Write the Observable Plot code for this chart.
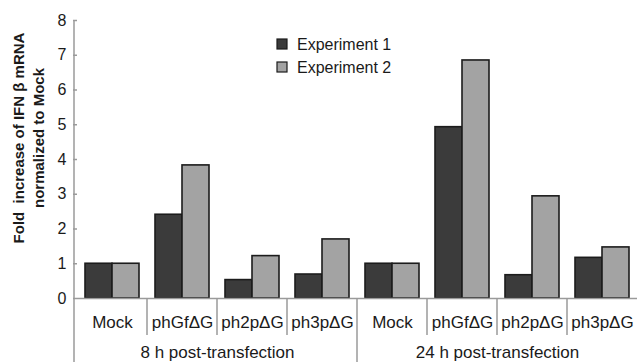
<!DOCTYPE html>
<html>
<head>
<meta charset="utf-8">
<script src="https://cdn.jsdelivr.net/npm/d3@7"></script>
<script src="https://cdn.jsdelivr.net/npm/@observablehq/plot@0.6"></script>
<style>
  html, body { margin: 0; padding: 0; background: #fff; }
  #chart { width: 640px; height: 362px; }
</style>
</head>
<body>
<div id="chart"></div>
<script>
const periods = ["8 h post-transfection", "24 h post-transfection"];
const categories = ["Mock", "phGfΔG", "ph2pΔG", "ph3pΔG"];
const series = ["Experiment 1", "Experiment 2"];
const exp1 = [1.00, 2.41, 0.53, 0.69, 1.00, 4.93, 0.67, 1.17];
const exp2 = [1.00, 3.83, 1.22, 1.70, 1.00, 6.85, 2.94, 1.47];
const yTicks = [0, 1, 2, 3, 4, 5, 6, 7, 8];
const yLabel = ["Fold  increase of IFN β mRNA", "normalized to Mock"];

const groups = [];
periods.forEach((p, pi) => categories.forEach((c, ci) => groups.push({period: p, cat: c, key: pi + "|" + c})));
const keys = groups.map(g => g.key);
const rows = [];
groups.forEach((g, i) => {
  rows.push({key: g.key, series: series[0], value: exp1[i]});
  rows.push({key: g.key, series: series[1], value: exp2[i]});
});
const periodLabels = periods.map((p, pi) => ({key: pi + "|" + categories[1], text: p}));

const colors = ["#3b3b3b", "#a3a3a3"];
const axisGray = "#9a9a9a";
const font = "'Liberation Sans', Arial, sans-serif";

const chart = Plot.plot({
  width: 640, height: 362,
  marginLeft: 74, marginRight: 0, marginTop: 20, marginBottom: 64,
  style: {fontFamily: font, fontSize: "16px", color: "#1a1a1a", background: "#fff"},
  fx: {domain: keys, padding: 0, axis: null},
  x: {domain: series, paddingInner: 0, paddingOuter: 0.27, axis: null},
  y: {domain: [0, 8], axis: null},
  color: {domain: series, range: colors},
  marks: [
    Plot.axisY({ticks: yTicks, tickSize: 4, tickPadding: 7, fontSize: 16, label: null, stroke: axisGray, strokeWidth: 1.5, fill: "#1a1a1a", tickFormat: d => String(d)}),
    Plot.barY(rows, {fx: "key", x: "series", y: "value", fill: "series", stroke: "#1c1c1c", strokeWidth: 1.6}),
    Plot.ruleY([0], {stroke: axisGray, strokeWidth: 1.5}),
    Plot.text(groups, {fx: "key", text: "cat", frameAnchor: "bottom", dy: 24, fontSize: 17, lineAnchor: "middle", fill: "#1a1a1a"}),
    Plot.text(periodLabels, {fx: "key", text: "text", frameAnchor: "bottom-right", textAnchor: "middle", dy: 54, fontSize: 17, lineAnchor: "middle", fill: "#1a1a1a"})
  ]
});
document.getElementById("chart").appendChild(chart);

const svg = d3.select(chart);
const fx = chart.scale("fx");
const ys = chart.scale("y");
const n = keys.length;
const r0 = fx.range[0], r1 = fx.range[1];
const step = (r1 - r0) / n;
const fxPos = k => (fx.apply ? fx.apply(k) : r0 + keys.indexOf(k) * step);
const y0 = ys.apply ? ys.apply(0) : ys.range[0];
const yTop = ys.apply ? ys.apply(8) : ys.range[1];

// left axis line extending to the bottom
svg.append("line").attr("x1", r0).attr("x2", r0).attr("y1", yTop).attr("y2", 362)
  .attr("stroke", axisGray).attr("stroke-width", 1.5);
// category separators
keys.forEach((k, i) => {
  if (i === 0) return;
  const x = fxPos(k);
  const long = i % categories.length === 0;
  svg.append("line").attr("x1", x).attr("x2", x).attr("y1", y0).attr("y2", long ? 362 : y0 + 37)
    .attr("stroke", axisGray).attr("stroke-width", 1.5);
});

// legend
const lg = svg.append("g").attr("font-size", 16).attr("font-family", font).attr("text-anchor", "start");
series.forEach((s, i) => {
  const cy = 44 + i * 23;
  lg.append("rect").attr("x", 277).attr("y", cy - 5).attr("width", 10).attr("height", 10)
    .attr("fill", colors[i]).attr("stroke", "#1c1c1c").attr("stroke-width", 1.2);
  lg.append("text").attr("x", 297).attr("y", cy).attr("dy", "0.35em")
    .style("text-anchor", "start").attr("fill", "#1a1a1a").text(s);
});

// y label
yLabel.forEach((t, i) => {
  svg.append("text")
    .attr("transform", `translate(${19 + i * 20},138) rotate(-90)`)
    .style("text-anchor", "middle").attr("dy", "0.35em")
    .style("font-weight", "bold").style("font-size", "15px")
    .attr("font-family", font)
    .attr("fill", "#1a1a1a").text(t);
});
</script>
</body>
</html>
